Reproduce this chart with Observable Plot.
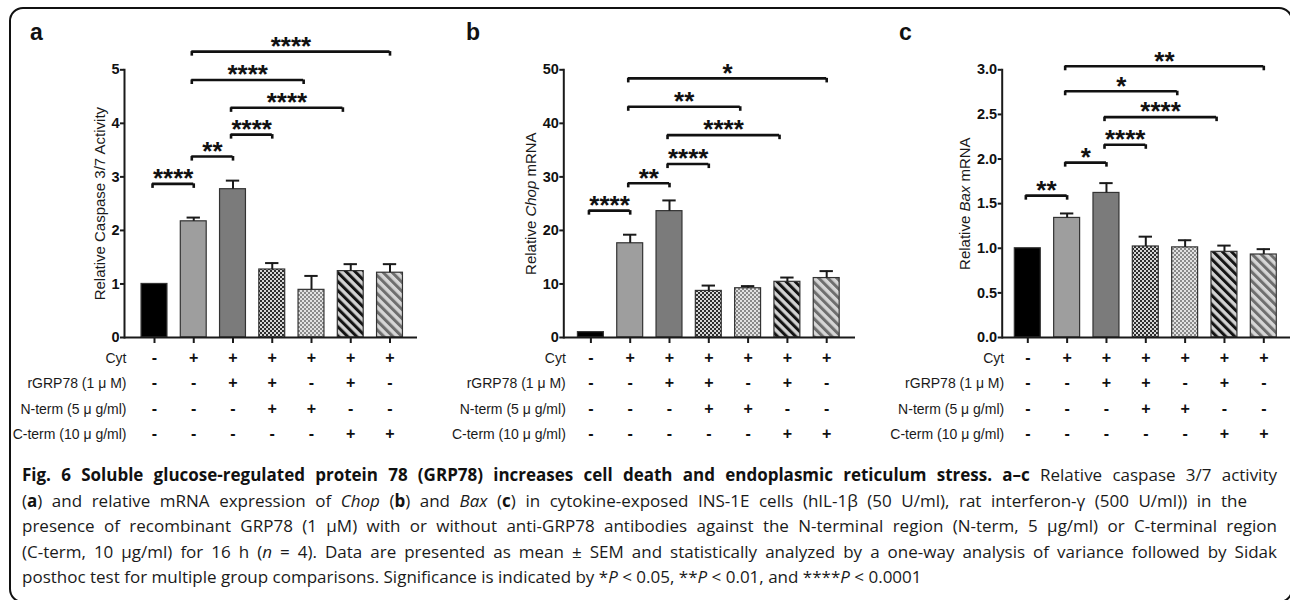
<!DOCTYPE html>
<html>
<head>
<meta charset="utf-8">
<script src="https://cdn.jsdelivr.net/npm/d3@7"></script>
<script src="https://cdn.jsdelivr.net/npm/@observablehq/plot@0.6"></script>
<style>
  html, body { margin: 0; padding: 0; background: #fff; }
  #fig { position: relative; width: 1290px; height: 600px; overflow: hidden; background: #fff; }
  #border { position: absolute; left: 9px; top: 7px; width: 1284px; height: 596px; box-sizing: border-box;
            border: 2.5px solid #111; border-radius: 14px; }
  .panel { position: absolute; top: 0; }
  .panel svg { font-family: "Liberation Sans", Arial, sans-serif; }
  .letter { position: absolute; top: 21px; font: bold 23px/23px "Liberation Sans", Arial, sans-serif; color: #111; }
  #cap { position: absolute; left: 22px; top: 462px; font-family: "Open Sans", sans-serif; font-size: 17px;
         line-height: 25.6px; color: #1a1a1a; }
  #cap .ln { white-space: nowrap; width: 1255px; text-align: justify; text-align-last: justify; }
  #cap .ln.free { text-align: left; text-align-last: left; }
  #cap b { font-weight: 700; color: #111; }
</style>
</head>
<body>
<svg width="0" height="0" style="position:absolute">
  <defs>
    <pattern id="chkDark" width="4" height="4" patternUnits="userSpaceOnUse">
      <rect width="4" height="4" fill="#d6d6d6"/>
      <rect width="2" height="2" fill="#2e2e2e"/>
      <rect x="2" y="2" width="2" height="2" fill="#2e2e2e"/>
    </pattern>
    <pattern id="chkLight" width="4" height="4" patternUnits="userSpaceOnUse">
      <rect width="4" height="4" fill="#e2e2e2"/>
      <rect width="2" height="2" fill="#8a8a8a"/>
      <rect x="2" y="2" width="2" height="2" fill="#8a8a8a"/>
    </pattern>
    <pattern id="strDark" width="6.4" height="6.4" patternUnits="userSpaceOnUse" patternTransform="rotate(-45)">
      <rect width="6.4" height="6.4" fill="#d2d2d2"/>
      <rect width="3" height="6.4" fill="#141414"/>
    </pattern>
    <pattern id="strLight" width="6.4" height="6.4" patternUnits="userSpaceOnUse" patternTransform="rotate(-45)">
      <rect width="6.4" height="6.4" fill="#d6d6d6"/>
      <rect width="3" height="6.4" fill="#6e6e6e"/>
    </pattern>
  </defs>
</svg>
<div id="fig">
  <div id="border"></div>
  <div class="panel" id="pa" style="left:0px"></div>
  <div class="panel" id="pb" style="left:430px"></div>
  <div class="panel" id="pc" style="left:860px"></div>
  <div class="letter" style="left:30px">a</div>
  <div class="letter" style="left:466px">b</div>
  <div class="letter" style="left:899px">c</div>
  <div id="cap">
    <div class="ln"><b>Fig. 6 Soluble glucose-regulated protein 78 (GRP78) increases cell death and endoplasmic reticulum stress. a–c</b> Relative caspase 3/7 activity</div>
    <div class="ln" style="width:1225px">(<b>a</b>) and relative mRNA expression of <i>Chop</i> (<b>b</b>) and <i>Bax</i> (<b>c</b>) in cytokine-exposed INS-1E cells (hIL-1β (50 U/ml), rat interferon-γ (500 U/ml)) in the</div>
    <div class="ln">presence of recombinant GRP78 (1 μM) with or without anti-GRP78 antibodies against the N-terminal region (N-term, 5 μg/ml) or C-terminal region</div>
    <div class="ln">(C-term, 10 μg/ml) for 16 h (<i>n</i> = 4). Data are presented as mean ± SEM and statistically analyzed by a one-way analysis of variance followed by Sidak</div>
    <div class="ln free">posthoc test for multiple group comparisons. Significance is indicated by *<i>P</i> &lt; 0.05, **<i>P</i> &lt; 0.01, and ****<i>P</i> &lt; 0.0001</div>
  </div>
</div>
<script>
// ---- data ----
const groups = [0, 1, 2, 3, 4, 5, 6];
const cytRow   = ["-", "+", "+", "+", "+", "+", "+"];
const rgrpRow  = ["-", "-", "+", "+", "-", "+", "-"];
const ntermRow = ["-", "-", "-", "+", "+", "-", "-"];
const ctermRow = ["-", "-", "-", "-", "-", "+", "+"];
const rowLabels = ["Cyt", "rGRP78 (1 μ M)", "N-term (5 μ g/ml)", "C-term (10 μ g/ml)"];
const barFills = ["#000000", "#9e9e9e", "#7b7b7b", "url(#chkDark)", "url(#chkLight)", "url(#strDark)", "url(#strLight)"];

const caspaseMean = [1.0, 2.17, 2.77, 1.27, 0.89, 1.24, 1.21];
const caspaseSem  = [0, 0.07, 0.16, 0.12, 0.26, 0.13, 0.16];
const chopMean = [1.0, 17.6, 23.6, 8.7, 9.2, 10.4, 11.1];
const chopSem  = [0, 1.6, 2.0, 1.0, 0.4, 0.8, 1.3];
const baxMean = [1.0, 1.34, 1.62, 1.02, 1.01, 0.96, 0.93];
const baxSem  = [0, 0.05, 0.11, 0.11, 0.08, 0.07, 0.06];

const caspaseTicks = [0, 1, 2, 3, 4, 5];
const chopTicks = [0, 10, 20, 30, 40, 50];
const baxTicks = [0, 0.5, 1.0, 1.5, 2.0, 2.5, 3.0];

const bracketFrom = [-0.05, 0.95, 1.95, 1.95, 0.95, 0.95];
const bracketTo   = [1, 2, 3, 4.8, 3.8, 6];
const caspaseLevels = [2.87, 3.38, 3.79, 4.29, 4.81, 5.34];
const caspaseStars  = ["****", "**", "****", "****", "****", "****"];
const chopLevels = [23.7, 28.8, 32.4, 37.8, 43.1, 48.4];
const chopStars  = ["****", "**", "****", "****", "**", "*"];
const baxLevels = [1.59, 1.96, 2.16, 2.47, 2.76, 3.04];
const baxStars  = ["**", "*", "****", "****", "*", "**"];

const FONT = "Liberation Sans, Arial, sans-serif";

function panel(o) {
  const bars = groups.map((g, i) => ({
    i: g, v: o.mean[i], e: o.sem[i], fill: barFills[i],
    table: [cytRow[i], rgrpRow[i], ntermRow[i], ctermRow[i]].join("\n")
  }));
  const errs = bars.filter(d => d.e > 0);
  const br = o.levels.map((y, k) => ({x1: bracketFrom[k], x2: bracketTo[k], y, s: o.stars[k]}));
  const ends = br.flatMap(d => [{x: d.x1, y: d.y}, {x: d.x2, y: d.y}]);
  const tk = o.yMax * 0.017;
  const ink = "#1a1a1a";
  return Plot.plot({
    width: 430, height: 450,
    marginTop: 69.3, marginBottom: 113, marginLeft: o.marginLeft, marginRight: o.marginRight,
    x: {domain: [0, 6], range: [o.x0, o.x6], axis: null},
    y: {domain: [0, o.yMax], axis: null},
    color: {type: "identity"},
    style: {fontFamily: FONT, color: ink, background: "transparent", overflow: "visible"},
    marks: [
      Plot.rectY(bars, {x1: d => d.i - 0.33, x2: d => d.i + 0.33, y1: 0, y2: "v", fill: "fill", stroke: "#333", strokeWidth: 1.2}),
      Plot.ruleX(errs, {x: "i", y1: "v", y2: d => d.v + d.e, stroke: ink, strokeWidth: 2}),
      Plot.ruleY(errs, {x1: d => d.i - 0.17, x2: d => d.i + 0.17, y: d => d.v + d.e, stroke: ink, strokeWidth: 2}),
      Plot.ruleY([0], {stroke: ink, strokeWidth: 2}),
      Plot.frame({anchor: "left", stroke: ink, strokeWidth: 2}),
      Plot.axisY({ticks: o.ticks, tickSize: 4, tickFormat: () => "", label: null, strokeWidth: 2}),
      Plot.text(o.ticks, {y: d => d, text: o.tickFormat, frameAnchor: "left", textAnchor: "end", dx: -5, fontSize: 14.5, fontWeight: "bold", fontFamily: FONT, fill: "#111"}),
      Plot.axisX({ticks: groups, tickSize: 6, tickFormat: () => "", label: null, strokeWidth: 2}),
      Plot.text(bars, {x: "i", text: "table", frameAnchor: "bottom", lineAnchor: "top", dy: 7, lineHeight: 1.594, fontSize: 16, fontWeight: "bold", fontFamily: FONT, fill: "#111"}),
      Plot.text([rowLabels.join("\n")], {frameAnchor: "bottom-left", textAnchor: "end", lineAnchor: "top", dy: 7, dx: 2, lineHeight: 1.82, fontSize: 14, fontFamily: FONT}),
      Plot.text([o.label], {frameAnchor: "left", textAnchor: "middle", lineAnchor: "middle", rotate: -90, dx: o.labelDx, fontSize: 15, fontFamily: FONT}),
      Plot.ruleY(br, {x1: "x1", x2: "x2", y: "y", stroke: "#111", strokeWidth: 2.6}),
      Plot.ruleX(ends, {x: "x", y1: d => d.y - tk, y2: "y", stroke: "#111", strokeWidth: 2.6}),
      Plot.text(br, {x: d => (d.x1 + d.x2) / 2, y: "y", text: "s", dy: -5, fontSize: 26, fontWeight: "bold", fontFamily: FONT, fill: "#111"})
    ]
  });
}

function italicize(svg, word) {
  svg.querySelectorAll("text").forEach(t => {
    if (t.textContent.includes(word) && t.textContent.startsWith("Relative")) {
      const target = t.querySelector("tspan") || t;
      const parts = target.textContent.split(word);
      target.textContent = "";
      const ns = "http://www.w3.org/2000/svg";
      target.appendChild(document.createTextNode(parts[0]));
      const ts = document.createElementNS(ns, "tspan");
      ts.setAttribute("font-style", "italic");
      ts.textContent = word;
      target.appendChild(ts);
      target.appendChild(document.createTextNode(parts[1]));
    }
  });
}

const a = panel({mean: caspaseMean, sem: caspaseSem, ticks: caspaseTicks, tickFormat: d => String(d), yMax: 5,
  levels: caspaseLevels, stars: caspaseStars, marginLeft: 124, marginRight: 13, x0: 154, x6: 389.5,
  label: "Relative Caspase 3/7 Activity", labelDx: -24});
const b = panel({mean: chopMean, sem: chopSem, ticks: chopTicks, tickFormat: d => String(d), yMax: 50,
  levels: chopLevels, stars: chopStars, marginLeft: 133.3, marginRight: 5, x0: 160.4, x6: 396.2,
  label: "Relative Chop mRNA", labelDx: -33});
const c = panel({mean: baxMean, sem: baxSem, ticks: baxTicks, tickFormat: d => d.toFixed(1), yMax: 3,
  levels: baxLevels, stars: baxStars, marginLeft: 141.7, marginRight: 0, x0: 167.3, x6: 403.3,
  label: "Relative Bax mRNA", labelDx: -37});
italicize(b, "Chop");
italicize(c, "Bax");
document.getElementById("pa").appendChild(a);
document.getElementById("pb").appendChild(b);
document.getElementById("pc").appendChild(c);
</script>
</body>
</html>
